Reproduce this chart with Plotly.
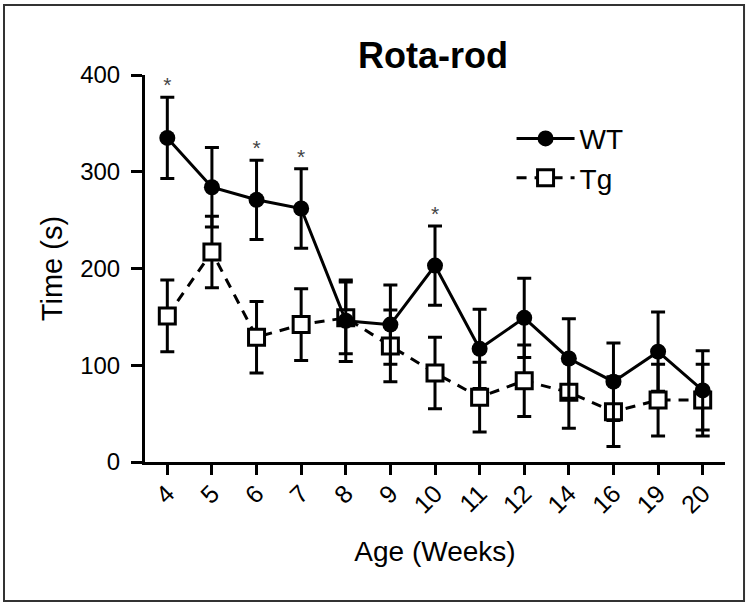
import plotly.graph_objects as go

weeks = ["4", "5", "6", "7", "8", "9", "10", "11", "12", "14", "16", "19", "20"]
wt = [335, 284, 271, 262, 146, 142, 203, 117, 149, 107, 83, 114, 74]
wt_sem = [42, 41, 41, 41, 42, 41, 41, 41, 41, 41, 40, 41, 41]
tg = [151, 217, 129, 142, 149, 120, 92, 67, 84, 72, 52, 64, 64]
tg_sem = [37, 37, 37, 37, 37, 37, 37, 36, 37, 37, 36, 37, 37]
sig = ["*", "", "*", "*", "", "", "*", "", "", "", "", "", ""]
y_ticks = [0, 100, 200, 300, 400]

FONT = "Liberation Sans, Arial, Helvetica, sans-serif"

fig = go.Figure()

fig.add_trace(go.Scatter(
    x=weeks, y=tg, name="Tg", mode="lines+markers", legendrank=2,
    line=dict(color="black", width=3, dash="10px,8px"),
    marker=dict(symbol="square", size=16, color="white",
                line=dict(color="black", width=3)),
    error_y=dict(type="data", array=tg_sem, visible=True,
                 color="black", thickness=3, width=7),
))
fig.add_trace(go.Scatter(
    x=weeks, y=wt, name="WT", mode="lines+markers", legendrank=1,
    line=dict(color="black", width=3),
    marker=dict(symbol="circle", size=16, color="black"),
    error_y=dict(type="data", array=wt_sem, visible=True,
                 color="black", thickness=3, width=7),
))

# significance asterisks above WT error bars
sig_x = [w for w, s in zip(weeks, sig) if s]
sig_y = [v + e for v, e, s in zip(wt, wt_sem, sig) if s]
sig_t = [s for s in sig if s]
fig.add_trace(go.Scatter(
    x=sig_x, y=sig_y, text=sig_t, mode="text", textposition="top center",
    textfont=dict(family=FONT, size=21, color="#444"),
    showlegend=False, hoverinfo="skip",
))

# outer frame
fig.add_shape(type="rect", xref="paper", yref="paper",
              x0=-0.2431, x1=1.0328, y0=-0.3592, y1=1.1809,
              line=dict(color="#333", width=2), fillcolor="rgba(0,0,0,0)",
              layer="below")

fig.update_layout(
    width=750, height=607,
    margin=dict(l=145, r=25, t=75, b=145, autoexpand=False),
    paper_bgcolor="white", plot_bgcolor="white",
    font=dict(family=FONT, color="black"),
    title=dict(text="<b>Rota-rod</b>", x=0.4966, xref="paper",
               y=1 - 55 / 607, yref="container", xanchor="center", yanchor="middle",
               font=dict(family=FONT, size=36, color="black")),
    showlegend=True,
    legend=dict(x=0.632, y=0.90, xanchor="left", yanchor="top",
                font=dict(family=FONT, size=28, color="black"),
                bgcolor="rgba(0,0,0,0)", itemwidth=58, tracegroupgap=6),
    xaxis=dict(
        type="category", categoryorder="array", categoryarray=weeks,
        range=[-0.5, len(weeks) - 0.5],
        showline=True, linecolor="black", linewidth=3,
        ticks="outside", ticklen=10, tickwidth=3, tickcolor="black",
        tickangle=-45, tickfont=dict(family=FONT, size=25, color="black"),
        ticklabelstandoff=-6,
        showgrid=False, zeroline=False,
        title=dict(text="Age (Weeks)", font=dict(family=FONT, size=28, color="black"),
                   standoff=24),
    ),
    yaxis=dict(
        range=[0, 400], tickvals=y_ticks, ticktext=[str(t) for t in y_ticks],
        showline=True, linecolor="black", linewidth=3,
        ticks="outside", ticklen=11, tickwidth=3, tickcolor="black",
        tickfont=dict(family=FONT, size=24, color="black"),
        ticklabelstandoff=6,
        showgrid=False, zeroline=False,
        title=dict(text="Time (s)", font=dict(family=FONT, size=29, color="black"),
                   standoff=10),
    ),
)

fig.write_html("out.html", config={"displayModeBar": False},
               post_script="document.body.style.margin='0';document.body.style.padding='0';")
